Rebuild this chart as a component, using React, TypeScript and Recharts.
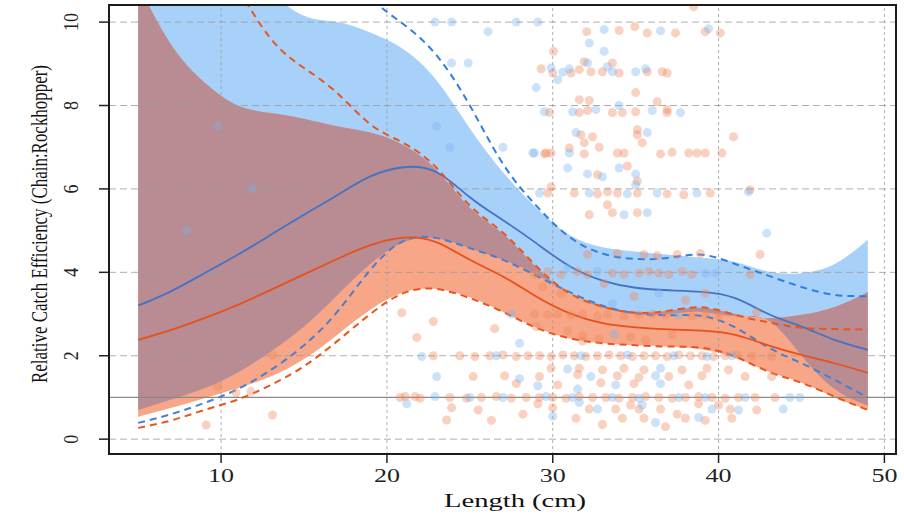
import React from 'react'
import { ComposedChart, Area, Line, Scatter, XAxis, YAxis, ReferenceLine } from 'recharts'

// fish length (cm) where the curves were evaluated
const lengths = [5, 7, 9, 11, 13, 15, 17, 19, 21, 23, 25, 27, 29, 31, 33, 35, 37, 39, 41, 43, 45, 47, 49]

// blue series
const blueMean = [3.2, 3.55, 3.98, 4.42, 4.9, 5.38, 5.85, 6.3, 6.52, 6.4, 5.8, 5.25, 4.7, 4.15, 3.8, 3.63, 3.57, 3.53, 3.38, 3.0, 2.7, 2.38, 2.14]
const blueDashHi = [14, 14, 13.8, 13.5, 13, 12.4, 11.6, 10.6, 9.95, 9.2, 8.0, 6.6, 5.6, 4.85, 4.45, 4.32, 4.35, 4.42, 4.2, 3.92, 3.65, 3.46, 3.43]
const blueDashLo = [0.39, 0.6, 0.87, 1.2, 1.66, 2.25, 3.05, 4.06, 4.75, 4.82, 4.58, 4.3, 3.92, 3.53, 3.2, 3.02, 2.97, 2.95, 2.68, 2.2, 1.82, 1.42, 1.0]
const blueBandLo = [0.7, 0.95, 1.22, 1.6, 2.1, 2.7, 3.45, 4.2, 4.72, 4.82, 4.58, 4.3, 3.95, 3.5, 3.15, 3.0, 3.0, 3.05, 2.95, 2.85, 2.0, 1.2, 0.8]
const blueBandHi = [14, 13, 12, 11.3, 10.7, 10.15, 10.0, 9.75, 9.35, 8.6, 7.45, 6.4, 5.55, 4.9, 4.6, 4.5, 4.42, 4.35, 4.25, 4.02, 3.98, 4.2, 4.78]

// orange series
const orangeMean = [2.38, 2.62, 2.9, 3.22, 3.58, 3.95, 4.32, 4.65, 4.83, 4.72, 4.3, 3.9, 3.42, 3.02, 2.78, 2.68, 2.63, 2.6, 2.5, 2.25, 2.02, 1.82, 1.59]
const orangeDashHi = [15, 13.5, 12, 10.8, 9.6, 8.9, 8.3, 7.55, 7.1, 6.5, 5.6, 4.95, 4.15, 3.5, 3.18, 3.03, 3.08, 3.16, 2.98, 2.8, 2.67, 2.64, 2.63]
const orangeDashLo = [0.27, 0.45, 0.7, 0.95, 1.3, 1.75, 2.35, 3.0, 3.5, 3.6, 3.38, 3.05, 2.67, 2.42, 2.3, 2.25, 2.22, 2.19, 1.98, 1.62, 1.35, 1.02, 0.7]
const orangeBandLo = [0.54, 0.75, 0.98, 1.22, 1.5, 1.92, 2.5, 3.1, 3.52, 3.6, 3.4, 3.05, 2.68, 2.42, 2.3, 2.25, 2.22, 2.15, 1.95, 1.62, 1.35, 1.0, 0.7]
const orangeBandHi = [10.9, 9.45, 8.55, 8.0, 7.82, 7.68, 7.5, 7.35, 7.05, 6.45, 5.55, 4.92, 4.12, 3.5, 3.2, 3.05, 3.08, 3.15, 3.0, 2.9, 2.98, 3.17, 3.53]

// observed ratios
const orangePoints = [
  [32.05, 9.77], [34.0, 9.8], [34.95, 9.89], [35.7, 9.74], [37.4, 9.74], [39.2, 9.77], [40.1, 9.74], [38.5, 10.37],
  [30.05, 9.3], [31.9, 9.05], [33.6, 9.02], [29.3, 8.88], [30.0, 8.78], [31.1, 8.78], [31.6, 8.86], [32.3, 8.81],
  [33.0, 8.81], [34.0, 8.78], [35.7, 8.81], [36.6, 8.81], [36.9, 8.78], [35.0, 8.31], [31.6, 8.14], [32.2, 8.12],
  [36.3, 8.09], [29.8, 7.83], [31.6, 7.83], [32.1, 7.88], [33.6, 7.83], [34.2, 7.83], [35.0, 7.85], [36.9, 7.83],
  [36.9, 7.9], [31.7, 7.3], [32.4, 7.25], [35.1, 7.42], [35.1, 7.3], [40.9, 7.25], [31.9, 7.11], [35.4, 7.11],
  [31.0, 6.98], [32.8, 7.0], [29.5, 6.84], [29.9, 6.86], [31.9, 6.84], [33.9, 6.86], [34.3, 6.86], [36.5, 6.84],
  [37.2, 6.88], [38.2, 6.86], [38.7, 6.86], [39.2, 6.86], [40.2, 6.86], [34.5, 6.55], [32.7, 6.34], [29.9, 6.05],
  [35.1, 6.19], [29.7, 5.9], [31.3, 5.9], [32.7, 5.88], [33.3, 5.93], [33.9, 5.9], [35.1, 5.9], [36.9, 5.88],
  [37.9, 5.86], [39.5, 5.9], [41.9, 5.98], [33.3, 5.62], [32.2, 5.38], [33.6, 5.43], [35.1, 5.43], [29.6, 6.86],
  [9.1, 0.34], [13.1, 0.58], [11.8, 1.14], [10.9, 1.11], [9.8, 1.26], [13.1, 2.02],
  [20.9, 3.03], [22.8, 2.82], [21.8, 2.44], [21.1, 1.02], [21.7, 1.02], [23.6, 0.46], [22.8, 2.0],
  [32.1, 4.43], [33.9, 4.45], [35.5, 4.43], [36.3, 4.4], [37.5, 4.43], [38.9, 4.45], [42.5, 4.43],
  [28.9, 3.95], [29.7, 4.02], [30.5, 3.95], [31.5, 4.02], [32.1, 3.95], [33.6, 3.98], [34.3, 3.95], [35.2, 3.98],
  [35.8, 4.02], [36.4, 3.98], [37.0, 3.95], [37.8, 4.02], [38.4, 3.95], [41.9, 3.95],
  [29.4, 3.65], [30.5, 3.49], [33.1, 3.73], [34.9, 3.42], [38.0, 3.33], [39.2, 3.5], [42.3, 3.05],
  [28.9, 3.0], [29.7, 2.98], [30.3, 3.0], [31.1, 2.98], [31.8, 3.0], [32.7, 2.95], [33.3, 2.98], [34.3, 2.95],
  [35.2, 2.98], [36.0, 3.0], [36.8, 2.98], [38.4, 2.95], [39.2, 2.98], [40.0, 2.95],
  [30.9, 2.6], [31.8, 2.48], [32.8, 2.41], [34.7, 2.45], [35.6, 2.38], [31.8, 2.35], [29.0, 2.7], [37.2, 2.5], [26.5, 2.65],
  [24.4, 2.0], [25.3, 1.98], [26.2, 2.0], [27.0, 2.02], [27.8, 1.98], [28.5, 2.0], [29.2, 2.0], [29.9, 1.98],
  [30.6, 2.02], [31.3, 2.0], [32.0, 1.98], [32.7, 2.0], [33.4, 2.02], [34.1, 2.0], [34.8, 1.98], [35.5, 2.0],
  [36.2, 2.0], [36.9, 1.98], [37.6, 2.02], [38.3, 2.0], [39.0, 2.0], [39.7, 1.98], [40.4, 2.0], [41.1, 2.02],
  [42.0, 2.0], [43.2, 1.98],
  [29.9, 1.7], [31.6, 1.7], [33.0, 1.66], [34.3, 1.7], [35.5, 1.66], [37.8, 1.66], [39.3, 1.7], [40.6, 1.66],
  [25.2, 1.5], [27.1, 1.52], [29.2, 1.5], [31.5, 1.55], [33.9, 1.52], [35.2, 1.48], [37.0, 1.5], [39.0, 1.52],
  [41.6, 1.5], [43.2, 1.5], [27.8, 1.33], [30.3, 1.3], [32.9, 1.35], [34.9, 1.33], [38.2, 1.3],
  [20.8, 1.0], [22.0, 0.98], [23.8, 1.0], [24.8, 0.98], [25.7, 1.0], [26.6, 1.02], [27.5, 0.98], [28.4, 1.0],
  [29.2, 1.0], [30.0, 1.0], [30.8, 0.98], [31.6, 1.02], [32.4, 1.0], [33.2, 1.0], [34.0, 0.98], [34.8, 1.0],
  [35.6, 1.02], [36.4, 1.0], [37.2, 0.98], [38.0, 1.0], [38.8, 1.02], [39.6, 1.0], [40.4, 0.98], [41.2, 1.0],
  [42.2, 1.0], [43.4, 1.0],
  [23.9, 0.75], [25.5, 0.7], [28.2, 0.6], [30.0, 0.75], [32.2, 0.72], [33.8, 0.72], [34.7, 0.82], [35.2, 0.72],
  [36.5, 0.72], [38.8, 0.85], [40.0, 0.82], [40.7, 0.72], [42.3, 0.7], [29.1, 0.85], [31.4, 0.5], [34.2, 0.5],
  [35.5, 0.5], [38.0, 0.5], [39.2, 0.45], [40.8, 0.5], [33.0, 0.35], [36.8, 0.3], [26.3, 0.45], [37.5, 0.6],
]

const bluePoints = [
  [33.1, 9.82], [36.5, 9.79], [39.4, 9.84], [32.2, 9.5], [33.1, 9.3], [32.1, 9.02], [29.9, 8.9], [30.6, 8.8],
  [31.0, 8.88], [33.3, 8.93], [33.6, 8.81], [35.0, 8.81], [35.6, 8.88], [30.3, 8.62], [29.0, 8.43], [29.5, 7.85],
  [31.2, 7.85], [32.6, 7.9], [34.0, 8.0], [36.0, 7.88], [37.7, 7.83], [31.4, 7.35], [35.7, 7.35], [28.9, 6.86],
  [31.0, 6.86], [30.9, 6.5], [34.0, 6.5], [32.1, 6.36], [33.0, 6.29], [35.0, 6.36], [35.0, 6.1], [29.2, 5.9],
  [32.2, 5.9], [34.5, 5.88], [36.3, 5.9], [38.7, 5.9], [41.8, 5.93], [34.3, 5.38], [35.7, 5.43], [42.9, 4.94],
  [22.9, 10.0], [23.9, 10.0], [26.1, 9.77], [27.8, 10.0], [29.1, 10.0], [23.9, 9.02], [24.9, 9.02], [23.0, 7.5],
  [23.8, 7.0], [27.0, 7.0], [28.8, 6.86], [7.9, 5.0], [9.8, 7.5], [11.9, 6.0],
  [22.1, 1.98], [23.0, 1.5], [22.9, 1.02], [21.2, 0.85],
  [32.7, 4.02], [39.2, 3.98], [39.8, 3.98], [30.9, 4.1], [33.6, 3.25], [36.4, 3.5], [37.6, 2.98], [27.5, 3.0],
  [33.7, 2.52], [28.0, 2.3], [26.6, 2.0], [31.7, 2.0], [34.5, 2.02], [37.3, 2.0], [39.3, 1.98], [40.8, 2.0],
  [30.9, 1.68], [36.5, 1.7], [32.3, 1.5], [36.2, 1.52], [28.0, 1.45], [29.1, 1.28], [33.8, 1.3], [36.5, 1.33],
  [31.5, 1.2], [25.0, 1.0], [27.0, 1.0], [29.6, 1.02], [31.2, 1.0], [33.6, 1.0], [35.2, 0.98], [37.6, 1.0],
  [39.2, 1.0], [41.6, 1.0], [44.3, 1.0], [44.9, 1.0], [31.6, 0.88], [32.7, 0.72], [38.8, 0.52], [41.2, 0.7],
  [43.9, 0.72], [39.6, 0.72], [35.4, 0.82], [30.0, 0.55], [36.2, 0.4],
]

const xTicks = [10, 20, 30, 40, 50]
const yTicks = [0, 2, 4, 6, 8, 10]

const table = lengths.map((x, i) => {
  const lo = Math.max(blueBandLo[i], orangeBandLo[i])
  const hi = Math.max(lo, Math.min(blueBandHi[i], orangeBandHi[i]))
  return {
    x,
    blueMean: blueMean[i],
    blueDashHi: blueDashHi[i],
    blueDashLo: blueDashLo[i],
    orangeMean: orangeMean[i],
    orangeDashHi: orangeDashHi[i],
    orangeDashLo: orangeDashLo[i],
    blueBand: [blueBandLo[i], blueBandHi[i]],
    orangeBand: [orangeBandLo[i], orangeBandHi[i]],
    overlap: [lo, hi],
  }
})

const toXY = (pts: number[][]) => pts.map(([x, y]) => ({ x, y }))

const serif = '"Liberation Serif", "DejaVu Serif", serif'

const YTick = ({ x, y, payload }: any) => (
  <text
    transform={`translate(${x - 26},${y}) rotate(-90)`}
    textAnchor="middle"
    dominantBaseline="central"
    fontFamily={serif}
    fontSize={21}
    fill="#222"
    textLength={String(payload.value).length * 9}
    lengthAdjust="spacingAndGlyphs"
  >
    {payload.value}
  </text>
)

const XTick = ({ x, y, payload }: any) => (
  <text
    x={x}
    y={y + 17}
    textAnchor="middle"
    fontFamily={serif}
    fontSize={18}
    fill="#222"
    textLength={String(payload.value).length * 13}
    lengthAdjust="spacingAndGlyphs"
  >
    {payload.value}
  </text>
)

const dot = (color: string, opacity: number) => (p: any) => (
  <circle cx={p.cx} cy={p.cy} r={4.5} fill={color} fillOpacity={opacity} />
)

const curve = 'natural'

export default function App() {
  return (
    <div style={{ position: 'absolute', left: 0, top: 0, width: 904, height: 515, background: '#fff' }}>
      <ComposedChart width={904} height={515} data={table} margin={{ top: 5, right: 7, bottom: 0, left: 0 }}>
        <XAxis
          dataKey="x"
          type="number"
          domain={[3.24, 50.76]}
          ticks={xTicks}
          allowDataOverflow
          height={60}
          axisLine={false}
          tickSize={8}
          tickLine={{ stroke: '#222', strokeWidth: 1.5 }}
          tick={<XTick />}
        />
        <YAxis
          type="number"
          domain={[-0.38, 10.41]}
          ticks={yTicks}
          allowDataOverflow
          width={109}
          axisLine={false}
          tickSize={10}
          tickLine={{ stroke: '#222', strokeWidth: 1.5 }}
          tick={<YTick />}
        />

        <Area dataKey="blueBand" type={curve} fill="#a8d1fa" fillOpacity={1} stroke="none" isAnimationActive={false} />
        <Area dataKey="orangeBand" type={curve} fill="#f7a687" fillOpacity={1} stroke="none" isAnimationActive={false} />
        <Area dataKey="overlap" type={curve} fill="#b88c92" fillOpacity={1} stroke="none" isAnimationActive={false} />

        {yTicks.map((t) => (
          <ReferenceLine key={'h' + t} y={t} stroke="#9a9a9a" strokeOpacity={0.8} strokeDasharray="7 4" />
        ))}
        {xTicks.map((t) => (
          <ReferenceLine key={'v' + t} x={t} stroke="#9a9a9a" strokeOpacity={0.8} strokeDasharray="3 3" />
        ))}
        <ReferenceLine y={1} stroke="#8a8a8a" strokeWidth={1.2} />

        <Scatter data={toXY(orangePoints)} dataKey="y" shape={dot('#f0855a', 0.38)} isAnimationActive={false} />
        <Scatter data={toXY(bluePoints)} dataKey="y" shape={dot('#7ab4ee', 0.38)} isAnimationActive={false} />

        <Line dataKey="blueDashHi" type={curve} stroke="#2f7fe0" strokeWidth={2} strokeDasharray="7 5" dot={false} isAnimationActive={false} />
        <Line dataKey="blueDashLo" type={curve} stroke="#4a7ed0" strokeWidth={2} strokeDasharray="7 5" dot={false} isAnimationActive={false} />
        <Line dataKey="blueMean" type={curve} stroke="#4572c2" strokeWidth={1.8} dot={false} isAnimationActive={false} />
        <Line dataKey="orangeDashHi" type={curve} stroke="#e8561f" strokeWidth={2} strokeDasharray="7 5" dot={false} isAnimationActive={false} />
        <Line dataKey="orangeDashLo" type={curve} stroke="#e8561f" strokeWidth={2} strokeDasharray="7 5" dot={false} isAnimationActive={false} />
        <Line dataKey="orangeMean" type={curve} stroke="#e8501c" strokeWidth={1.8} dot={false} isAnimationActive={false} />
      </ComposedChart>

      {/* plot frame */}
      <div
        style={{
          position: 'absolute',
          left: 108,
          top: 4,
          width: 789,
          height: 451,
          border: '2px solid #1c1c1c',
          boxSizing: 'border-box',
          pointerEvents: 'none',
        }}
      />

      <svg width={904} height={515} style={{ position: 'absolute', left: 0, top: 0, pointerEvents: 'none' }}>
        <text
          transform="translate(47,224) rotate(-90) scale(1,1.25)"
          textAnchor="middle"
          fontFamily={serif}
          fontSize={19}
          fill="#111"
          textLength={318}
          lengthAdjust="spacingAndGlyphs"
        >
          Relative Catch Efficiency (Chain:Rockhopper)
        </text>
        <text
          x={515}
          y={507}
          textAnchor="middle"
          fontFamily={serif}
          fontSize={19}
          fill="#111"
          textLength={142}
          lengthAdjust="spacingAndGlyphs"
        >
          Length (cm)
        </text>
      </svg>
    </div>
  )
}
